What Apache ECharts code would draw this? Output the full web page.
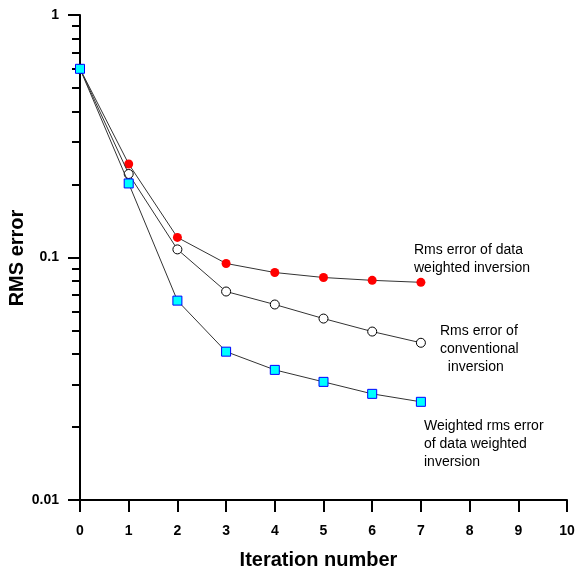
<!DOCTYPE html>
<html>
<head>
<meta charset="utf-8">
<script src="https://cdn.jsdelivr.net/npm/echarts@6/dist/echarts.min.js"></script>
<style>
  html, body { margin: 0; padding: 0; background: #fff; }
  #main { width: 578px; height: 572px; }
</style>
</head>
<body>
<div id="main"></div>
<script>
// iteration numbers
var iterations = [0, 1, 2, 3, 4, 5, 6, 7];
// rms error of data weighted inversion (red dots)
var rmsWeighted = [0.60, 0.243, 0.121, 0.0945, 0.0867, 0.0827, 0.0805, 0.0790];
// rms error of conventional inversion (open circles)
var rmsConventional = [0.60, 0.221, 0.108, 0.0724, 0.0640, 0.0560, 0.0495, 0.0445];
// weighted rms error of data weighted inversion (cyan squares)
var weightedRms = [0.60, 0.202, 0.0664, 0.0409, 0.0344, 0.0307, 0.0274, 0.0254];

var majorTicks = [0.01, 0.1, 1];
var minorTicks = [0.02, 0.03, 0.04, 0.05, 0.06, 0.07, 0.08, 0.09,
                  0.2, 0.3, 0.4, 0.5, 0.6, 0.7, 0.8, 0.9];

function pairs(ys) {
  return iterations.map(function (x, i) { return [x, ys[i]]; });
}

var myChart = echarts.init(document.getElementById('main'));
var font = 'Arial, "Liberation Sans", sans-serif';

myChart.setOption({
  animation: false,
  grid: { left: 80, right: 11, top: 15, bottom: 72, outerBoundsMode: 'none', containLabel: false },
  xAxis: {
    type: 'value',
    min: 0,
    max: 10,
    interval: 1,
    splitLine: { show: false },
    axisLine: { lineStyle: { color: '#000', width: 2 } },
    axisTick: { length: 12, lineStyle: { color: '#000', width: 2 } },
    axisLabel: { color: '#000', fontWeight: 'bold', fontSize: 14, fontFamily: font, margin: 24 },
    name: 'Iteration number',
    nameLocation: 'middle',
    nameGap: 50,
    nameTextStyle: { color: '#000', fontWeight: 'bold', fontSize: 20, fontFamily: font, padding: [0, 10, 0, 0] }
  },
  yAxis: [{
    type: 'log',
    logBase: 10,
    min: 0.01,
    max: 1,
    splitLine: { show: false },
    axisLine: { onZero: false, lineStyle: { color: '#000', width: 2 } },
    axisTick: { length: 12, lineStyle: { color: '#000', width: 2 }, customValues: majorTicks },
    axisLabel: {
      color: '#000', fontWeight: 'bold', fontSize: 14, fontFamily: font, margin: 21,
      customValues: majorTicks,
      formatter: function (v) { return String(+v.toPrecision(3)); }
    }
  }, {
    type: 'log',
    logBase: 10,
    min: 0.01,
    max: 1,
    position: 'left',
    splitLine: { show: false },
    axisLine: { show: false },
    axisTick: { length: 8, lineStyle: { color: '#000', width: 2 }, customValues: minorTicks },
    axisLabel: { show: false }
  }],
  series: [{
    name: 'Rms error of data weighted inversion',
    type: 'line',
    data: pairs(rmsWeighted),
    symbol: 'circle',
    symbolSize: 9,
    lineStyle: { color: '#333', width: 1 },
    itemStyle: { color: '#ff0000', borderWidth: 0 },
    z: 2
  }, {
    name: 'Rms error of conventional inversion',
    type: 'line',
    data: pairs(rmsConventional),
    symbol: 'circle',
    symbolSize: 9,
    lineStyle: { color: '#333', width: 1 },
    itemStyle: { color: '#fff', borderColor: '#000', borderWidth: 1 },
    z: 3
  }, {
    name: 'Weighted rms error of data weighted inversion',
    type: 'line',
    data: pairs(weightedRms),
    symbol: 'rect',
    symbolSize: 9,
    lineStyle: { color: '#333', width: 1 },
    itemStyle: { color: '#00ffff', borderColor: '#0000ff', borderWidth: 1 },
    z: 4
  }],
  graphic: [{
    type: 'text', x: 17, y: 258, rotation: Math.PI / 2,
    style: { text: 'RMS error', font: 'bold 20px ' + font, fill: '#000', align: 'center', verticalAlign: 'middle' }
  }, {
    type: 'text', left: 414, top: 241,
    style: { text: 'Rms error of data\nweighted inversion', font: '14px ' + font, fill: '#000', lineHeight: 18 }
  }, {
    type: 'text', left: 440, top: 322,
    style: { text: 'Rms error of\nconventional\n  inversion', font: '14px ' + font, fill: '#000', lineHeight: 18 }
  }, {
    type: 'text', left: 424, top: 417,
    style: { text: 'Weighted rms error\nof data weighted\ninversion', font: '14px ' + font, fill: '#000', lineHeight: 18 }
  }]
});
</script>
</body>
</html>
